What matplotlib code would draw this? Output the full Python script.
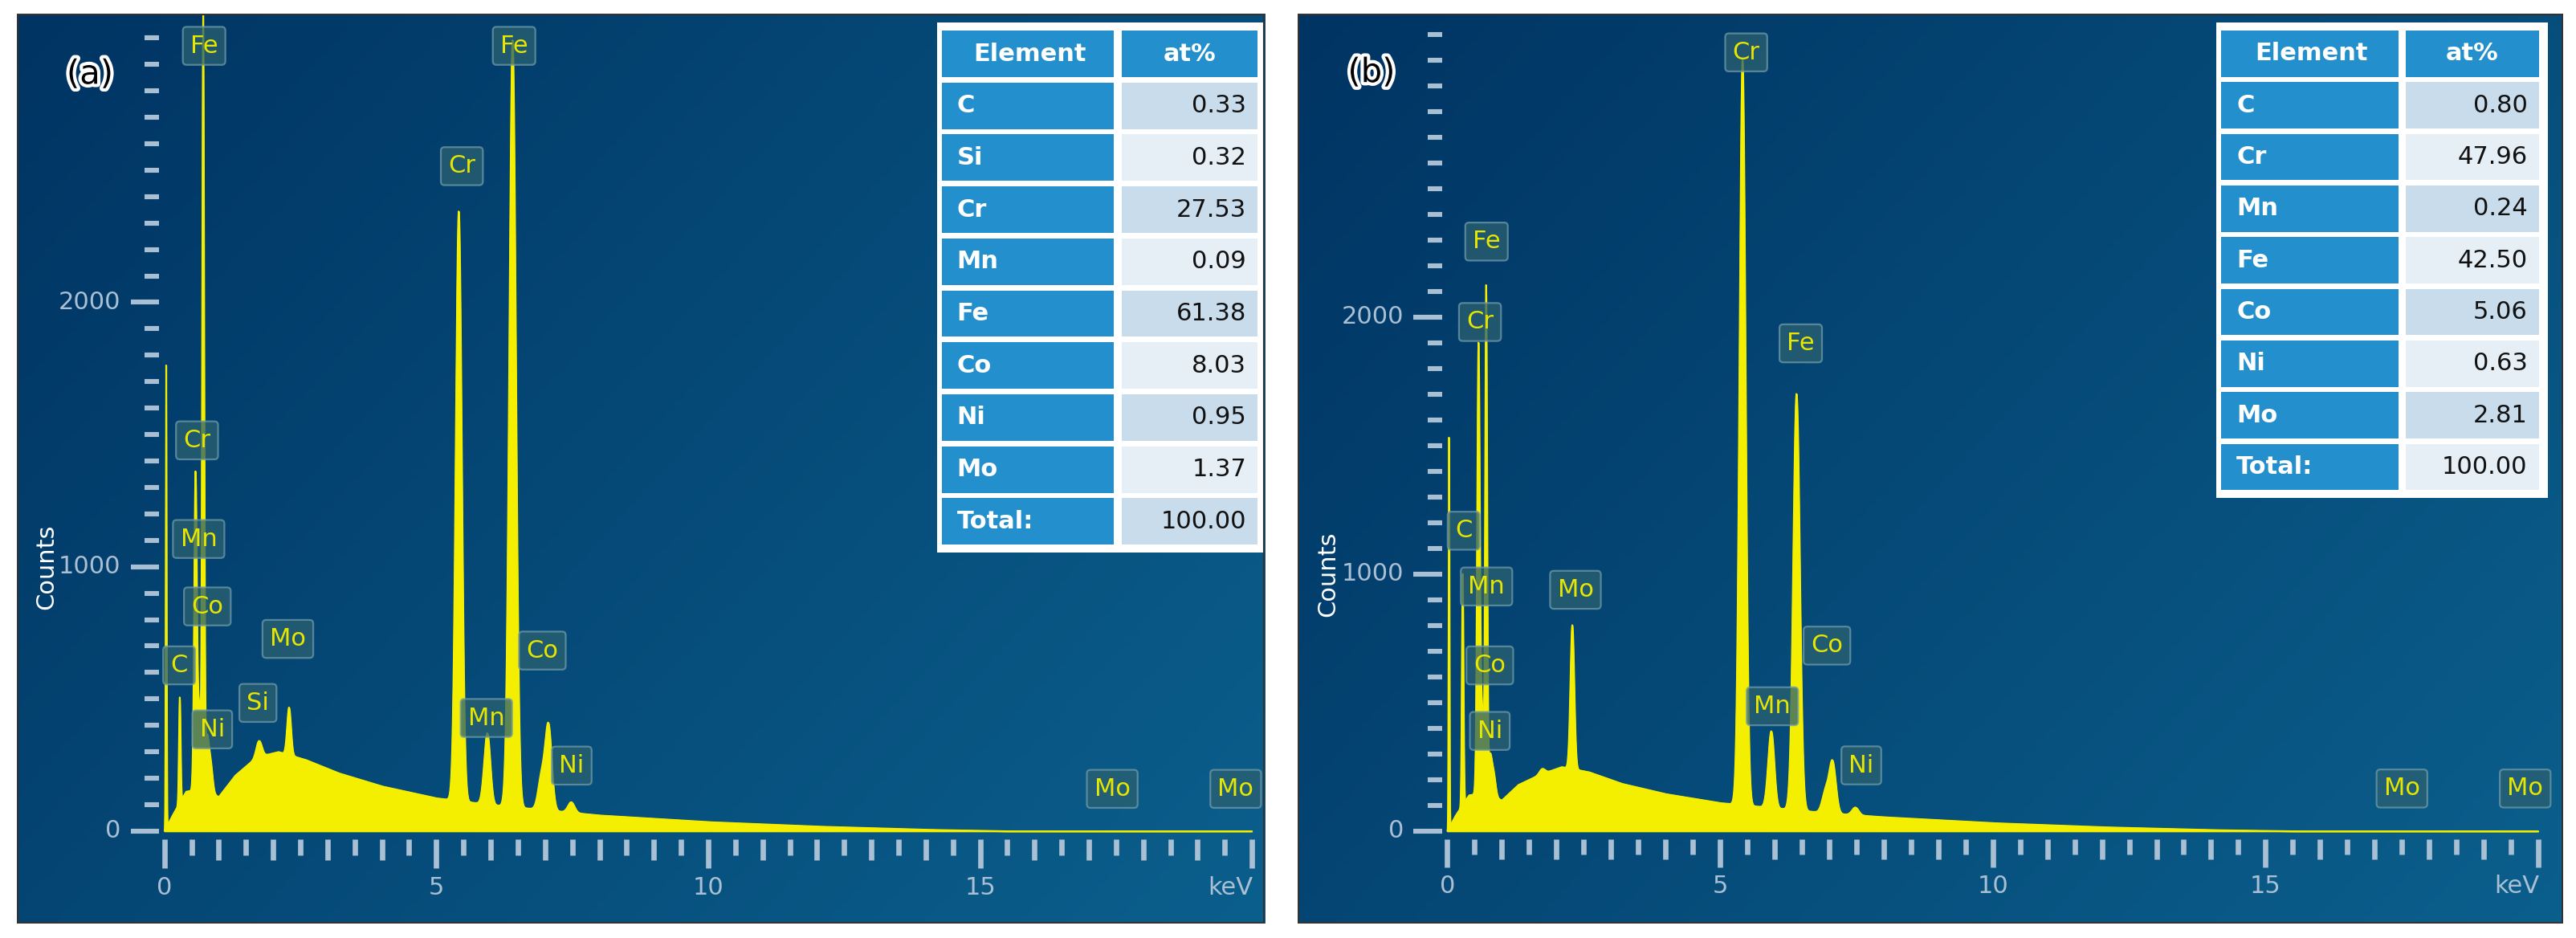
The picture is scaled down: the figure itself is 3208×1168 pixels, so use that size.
import numpy as np
import matplotlib
matplotlib.use("Agg")
import matplotlib.pyplot as plt
import matplotlib.patheffects as pe
from matplotlib.patches import Rectangle
from matplotlib.colors import LinearSegmentedColormap

# ---------------- data ----------------
elements_a = ["C", "Si", "Cr", "Mn", "Fe", "Co", "Ni", "Mo", "Total:"]
atpct_a = ["0.33", "0.32", "27.53", "0.09", "61.38", "8.03", "0.95", "1.37", "100.00"]
elements_b = ["C", "Cr", "Mn", "Fe", "Co", "Ni", "Mo", "Total:"]
atpct_b = ["0.80", "47.96", "0.24", "42.50", "5.06", "0.63", "2.81", "100.00"]

# background continuum knots (keV, counts)
bg_e = [0.0, 0.15, 0.4, 0.7, 1.0, 1.3, 1.7, 2.1, 2.6, 3.2, 4.0, 5.0, 6.0, 7.0, 8.0, 10.0, 12.0, 14.0, 15.5, 20.0]
bg_a = [0, 60, 150, 160, 130, 210, 280, 300, 270, 220, 170, 125, 100, 80, 60, 35, 18, 6, 0, 0]
bg_b = [0, 60, 140, 150, 120, 180, 220, 250, 230, 185, 145, 110, 90, 70, 55, 32, 16, 5, 0, 0]

# peaks: energy (keV), height (counts), width (keV sigma)
pk_e = [0.03, 0.28, 0.57, 0.64, 0.71, 0.78, 0.85, 1.74, 2.29, 5.41, 5.90, 5.95, 6.40, 6.93, 7.06, 7.48]
pk_w = [0.008, 0.015, 0.025, 0.025, 0.018, 0.035, 0.035, 0.05, 0.035, 0.055, 0.05, 0.05, 0.06, 0.06, 0.06, 0.06]
pk_a = [1750, 400, 1200, 300, 2900, 200, 100, 60, 180, 2230, 100, 200, 2900, 120, 320, 40]
pk_b = [1520, 900, 1750, 300, 1950, 150, 80, 20, 560, 2900, 100, 230, 1620, 80, 200, 30]

# peak label annotations: (text, keV, counts)
labels_a = [("Fe", 0.73, 2970), ("Fe", 6.43, 2970), ("Cr", 5.47, 2515), ("Cr", 0.60, 1478),
            ("Mn", 0.63, 1105), ("Co", 0.79, 850), ("C", 0.27, 627), ("Ni", 0.88, 385),
            ("Si", 1.72, 485), ("Mo", 2.27, 727), ("Mn", 5.92, 428), ("Co", 6.95, 683),
            ("Ni", 7.49, 248), ("Mo", 17.43, 160), ("Mo", 19.70, 160)]
labels_b = [("Cr", 5.48, 3030), ("Fe", 0.72, 2294), ("Cr", 0.60, 1981), ("Fe", 6.48, 1898),
            ("C", 0.30, 1169), ("Mn", 0.72, 952), ("Mo", 2.35, 939), ("Co", 0.78, 645),
            ("Co", 6.96, 722), ("Mn", 5.96, 486), ("Ni", 0.78, 390), ("Ni", 7.59, 256),
            ("Mo", 17.50, 166), ("Mo", 19.76, 166)]

y_major = [0, 1000, 2000]
x_major = [0, 5, 10, 15]

YEL = "#f4ef00"
TICK = "#a9bfd3"
FS = 11


def spectrum(bg, heights):
    e = np.arange(0, 20.0, 0.005)
    s = np.interp(e, bg_e, bg)
    for c, h, w in zip(pk_e, heights, pk_w):
        s = s + h * np.exp(-0.5 * ((e - c) / w) ** 2)
    return e, s


def panel(rect, xlim, ylim, bg, heights, labels, elems, vals, tab, tag):
    ax = fig.add_axes(rect)
    ax.set_xlim(*xlim)
    ax.set_ylim(*ylim)
    ax.axis("off")
    grad = np.linspace(0, 1, 256)[None, :] * 0.6 + np.linspace(1, 0, 256)[:, None] * 0.4
    cm = LinearSegmentedColormap.from_list("g", ["#003463", "#0b5f8c"])
    ax.imshow(grad, extent=[xlim[0], xlim[1], ylim[0], ylim[1]], aspect="auto", cmap=cm, origin="lower", zorder=0)
    ax.add_patch(Rectangle((0, 0), 1, 1, transform=ax.transAxes, fill=False, ec="#333333", lw=1.5, zorder=10))
    e, s = spectrum(bg, heights)
    ax.fill_between(e, 0, s, color=YEL, lw=0.6, zorder=2)
    ax.plot(e, s, color=YEL, lw=0.6, zorder=2)
    # y ticks
    for v in np.arange(0, ylim[1] - 50, 100):
        major = v in y_major
        ax.plot([-0.62 if major else -0.36, -0.1], [v, v], color=TICK, lw=2.2, solid_capstyle="butt", zorder=3)
    for v in y_major:
        ax.text(-0.8, v, str(v), color=TICK, ha="right", va="center", fontsize=FS, zorder=3)
    ax.text(xlim[0] + 0.55, 1000, "Counts", color="white", rotation=90, ha="center", va="center", fontsize=FS)
    # x ticks
    for v in np.arange(0, 20.01, 0.5):
        if abs(v - round(v / 5) * 5) < 1e-6:
            lo = -140
        elif abs(v - round(v)) < 1e-6:
            lo = -110
        else:
            lo = -90
        ax.plot([v, v], [-30, lo], color=TICK, lw=2.4, solid_capstyle="butt", zorder=3)
    for v in x_major:
        ax.text(v, -170, str(v), color=TICK, ha="center", va="top", fontsize=FS)
    ax.text(19.6, -170, "keV", color=TICK, ha="center", va="top", fontsize=FS)
    # peak labels
    for t, x, y in labels:
        ax.text(x, y, t, color="#e6e600", ha="center", va="center", fontsize=FS, zorder=5,
                bbox=dict(boxstyle="round,pad=0.3,rounding_size=0.15", fc="#2b6170", ec="#6f9aaa", alpha=0.75, lw=0.8))
    ax.text(xlim[0] + 1.35, ylim[1] - 230, tag, color="black", ha="center", va="center", fontsize=15, zorder=6,
            path_effects=[pe.withStroke(linewidth=3, foreground="white")])
    # table
    x0, x1, xs, ytop, ybot = tab
    n = len(elems) + 1
    rh = (ytop - ybot) / n
    gap = 0.003
    ax.add_patch(Rectangle((x0 - 0.004, ybot - 0.006), x1 - x0 + 0.008, ytop - ybot + 0.012, transform=ax.transAxes,
                           fc="white", ec="none", zorder=6))
    rows = [("Element", "at%")] + list(zip(elems, vals))
    for i, (a, b) in enumerate(rows):
        yb = ytop - (i + 1) * rh
        ax.add_patch(Rectangle((x0, yb + gap), xs - x0 - gap, rh - 2 * gap, transform=ax.transAxes,
                               fc="#238fcc", ec="none", zorder=7))
        if i == 0:
            fc2 = "#238fcc"
        else:
            fc2 = "#c9dcec" if i % 2 == 1 else "#e6eef6"
        ax.add_patch(Rectangle((xs + gap, yb + gap), x1 - xs - 2 * gap, rh - 2 * gap, transform=ax.transAxes,
                               fc=fc2, ec="none", zorder=7))
        if i == 0:
            ax.text((x0 + xs) / 2, yb + rh / 2, a, transform=ax.transAxes, color="white", weight="bold",
                    ha="center", va="center", fontsize=FS, zorder=8)
            ax.text((xs + x1) / 2, yb + rh / 2, b, transform=ax.transAxes, color="white", weight="bold",
                    ha="center", va="center", fontsize=FS, zorder=8)
        else:
            ax.text(x0 + 0.012, yb + rh / 2, a, transform=ax.transAxes, color="white", weight="bold",
                    ha="left", va="center", fontsize=FS, zorder=8)
            ax.text(x1 - 0.012, yb + rh / 2, b, transform=ax.transAxes, color="#111111",
                    ha="right", va="center", fontsize=FS, zorder=8)
    return ax


fig = plt.figure(figsize=(16.04, 5.84), dpi=200)
fig.patch.set_facecolor("white")
panel([0.0064, 0.0158, 0.4847, 0.970], (-2.72, 20.24), (-348, 3093), bg_a, pk_a, labels_a,
      elements_a, atpct_a, (0.741, 0.997, 0.882, 0.984, 0.413), "(a)")
panel([0.5038, 0.0158, 0.4911, 0.970], (-2.74, 20.45), (-358, 3182), bg_b, pk_b, labels_b,
      elements_b, atpct_b, (0.730, 0.984, 0.873, 0.984, 0.473), "(b)")
fig.savefig("out.png", dpi=200, facecolor="white")
